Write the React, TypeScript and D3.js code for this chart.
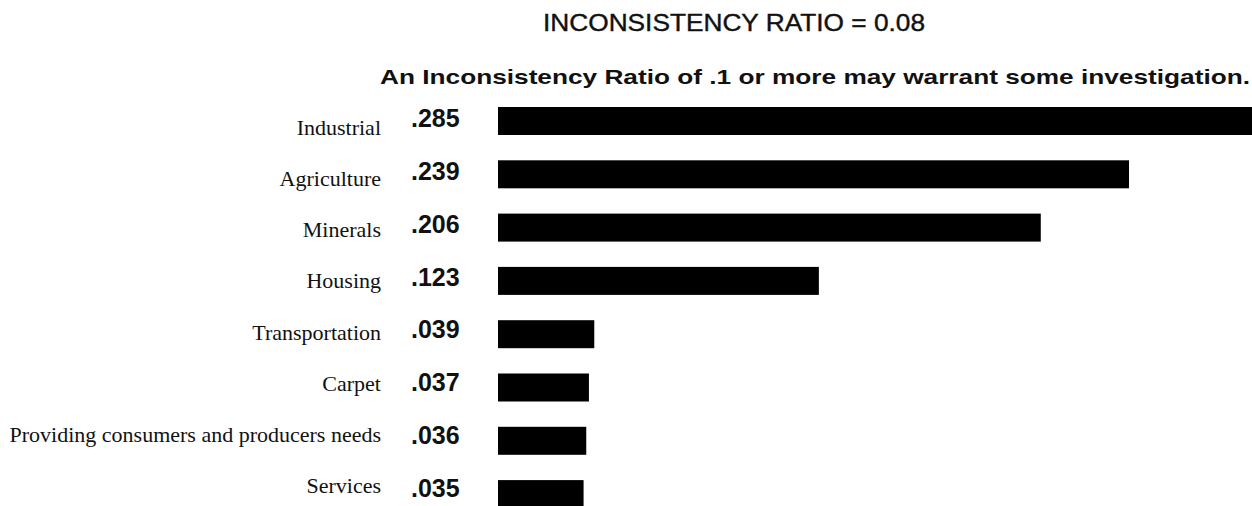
import React from "react";
import * as d3 from "d3";

const categories = [
  "Industrial",
  "Agriculture",
  "Minerals",
  "Housing",
  "Transportation",
  "Carpet",
  "Providing consumers and producers needs",
  "Services",
];
const values = [0.285, 0.239, 0.206, 0.123, 0.039, 0.037, 0.036, 0.035];
const valueLabels = [".285", ".239", ".206", ".123", ".039", ".037", ".036", ".035"];
const title = "INCONSISTENCY RATIO = 0.08";
const subtitle = "An Inconsistency Ratio of .1 or more may warrant some investigation.";

export default function App() {
  const W = 1252;
  const H = 506;
  const barLeft = 498;
  const x = d3.scaleLinear().domain([0, 0.285]).range([490, 1252]);
  const step = 53.3;
  const p = 25.3 / step;
  const y = d3
    .scaleBand<string>()
    .domain(categories)
    .range([107 - (step * p) / 2, 107 - (step * p) / 2 + step * categories.length])
    .paddingInner(p)
    .paddingOuter(p / 2);
  const labelY = d3
    .scalePoint<string>()
    .domain(categories)
    .range([135, 493]);
  const valueY = d3
    .scalePoint<string>()
    .domain(categories)
    .range([127, 497]);
  return (
    <svg
      width={W}
      height={H}
      style={{ position: "absolute", left: 0, top: 0, background: "#fff" }}
    >
      <text
        x={734}
        y={31}
        textAnchor="middle"
        fontFamily="Liberation Sans, Arial, sans-serif"
        fontSize={24}
        textLength={382}
        lengthAdjust="spacingAndGlyphs"
        fill="#111"
        stroke="#111"
        strokeWidth={0.4}
      >
        {title}
      </text>
      <text
        x={815}
        y={84}
        textAnchor="middle"
        fontFamily="Liberation Sans, Arial, sans-serif"
        fontSize={21}
        fontWeight="bold"
        textLength={870}
        lengthAdjust="spacingAndGlyphs"
        fill="#111"
      >
        {subtitle}
      </text>
      {categories.map((c, i) => (
        <g key={c}>
          <rect
            x={barLeft}
            y={y(c)}
            width={x(values[i]) - barLeft}
            height={y.bandwidth()}
            fill="#000"
          />
          <text
            x={381}
            y={labelY(c)}
            textAnchor="end"
            fontFamily="Liberation Serif, Times New Roman, serif"
            fontSize={22}
            fill="#111"
          >
            {c}
          </text>
          <text
            x={411}
            y={valueY(c)}
            fontFamily="Liberation Sans, Arial, sans-serif"
            fontSize={25}
            fontWeight="bold"
            fill="#111"
          >
            {valueLabels[i]}
          </text>
        </g>
      ))}
    </svg>
  );
}
